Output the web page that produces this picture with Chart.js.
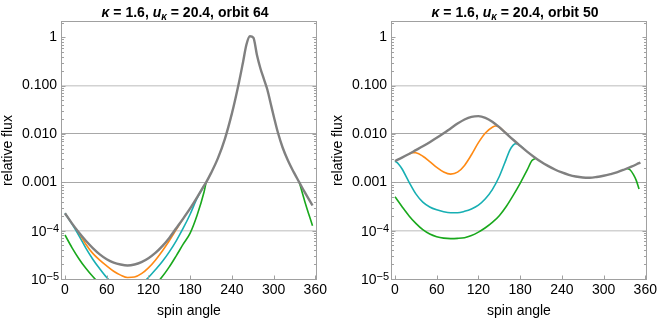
<!DOCTYPE html>
<html><head><meta charset="utf-8">
<script src="https://cdn.jsdelivr.net/npm/chart.js@4.4.0/dist/chart.umd.min.js"></script>
<style>
body{margin:0;width:661px;height:325px;overflow:hidden;background:#fff;font-family:"Liberation Sans",Arial,sans-serif;}
.panel{position:absolute;top:0;width:330px;height:325px;}
.title{position:absolute;top:3px;line-height:18px;font-weight:bold;font-size:14px;white-space:nowrap;transform:translateX(-50%);color:#000;}
.title sub{font-size:10px;vertical-align:-3px;line-height:0;}
</style></head><body>
<div class="panel" style="left:0"><canvas id="c0" width="330" height="325"></canvas></div>
<div class="panel" style="left:330px"><canvas id="c1" width="330" height="325"></canvas></div>
<div class="title" id="t0" style="left:185px"></div>
<div class="title" id="t1" style="left:515px"></div>
<script>
// ---------- data ----------
const kappa = '1.6';
const uKappa = '20.4';
const orbits = [64, 50];

const xTickValues = [0, 60, 120, 180, 240, 300, 360];
const yTickValues = [1e-5, 1e-4, 1e-3, 1e-2, 0.1, 1];
const yTickLabels = ['10^\u22125', '10^\u22124', '0.001', '0.010', '0.100', '1'];

// left panel (orbit 64)
const leftGrayAngle = [0,10,20,30,40,50,60,70,80,90,100,110,120,130,140,150,160,170,180,190,200,203,210,220,230,240,250,256,261,266,271,276,281,286,291,296,301,306,313,321,329,337,345,356];
const leftGrayFlux  = [2.29e-4,1.413e-4,9.12e-5,6.166e-5,4.365e-5,3.236e-5,2.57e-5,2.188e-5,1.995e-5,1.905e-5,1.995e-5,2.239e-5,2.692e-5,3.467e-5,4.786e-5,7.079e-5,1.122e-4,1.778e-4,2.884e-4,4.898e-4,8.511e-4,1.0e-3,1.549e-3,3.162e-3,7.943e-3,2.63e-2,0.1122,0.302,0.7079,1.047,0.9772,0.4365,0.2291,0.138,0.0832,0.0417,0.0209,0.01096,5.248e-3,2.754e-3,1.622e-3,1.0e-3,6.166e-4,3.311e-4];
const leftOrangeAngle = [20,30,40,50,60,70,80,90,100,110,120,130,140,150,160,170];
const leftOrangeFlux  = [9.12e-5,5.248e-5,3.388e-5,2.455e-5,1.862e-5,1.445e-5,1.202e-5,1.072e-5,1.096e-5,1.288e-5,1.698e-5,2.455e-5,3.802e-5,6.166e-5,1.047e-4,1.778e-4];
const leftCyanAngle = [0,10,20,30,40,50,60,70,80,90,100,110,120,130,140,150,160,170,180,190,200];
const leftCyanFlux  = [2.29e-4,1.38e-4,7.943e-5,4.365e-5,2.57e-5,1.622e-5,1.072e-5,7.943e-6,6.607e-6,6.166e-6,6.607e-6,7.943e-6,1.072e-5,1.549e-5,2.291e-5,3.631e-5,6.166e-5,1.122e-4,2.188e-4,4.677e-4,8.511e-4];
const leftGreenAngle = [0,10,20,30,40,50,60,70,80,90,100,110,120,130,140,150,160,170,180,190,200,203,270,337,345,356];
const leftGreenFlux  = [8.128e-5,4.467e-5,2.63e-5,1.66e-5,1.122e-5,7.943e-6,6.026e-6,4.898e-6,4.365e-6,4.266e-6,4.467e-6,5.012e-6,6.026e-6,7.762e-6,1.122e-5,1.778e-5,3.02e-5,5.248e-5,8.913e-5,2.089e-4,6.31e-4,1.0e-3,null,1.0e-3,3.981e-4,1.259e-4];

// right panel (orbit 50)
const rightGrayAngle = [0,10,20,30,40,50,60,70,80,90,100,110,120,130,140,150,160,170,180,190,200,210,220,230,240,250,260,270,280,290,300,310,320,330,340,350,353];
const rightGrayFlux  = [2.754e-3,3.236e-3,3.846e-3,4.624e-3,5.559e-3,6.761e-3,8.318e-3,1.035e-2,1.303e-2,1.641e-2,1.995e-2,2.265e-2,2.344e-2,2.163e-2,1.799e-2,1.38e-2,1.023e-2,7.586e-3,5.689e-3,4.315e-3,3.35e-3,2.661e-3,2.188e-3,1.841e-3,1.603e-3,1.429e-3,1.318e-3,1.259e-3,1.245e-3,1.288e-3,1.365e-3,1.479e-3,1.622e-3,1.841e-3,2.113e-3,2.455e-3,2.57e-3];
const rightOrangeAngle = [20,25,30,40,50,60,70,80,90,100,110,120,130,140,145,150,160];
const rightOrangeFlux  = [3.846e-3,4.121e-3,4.074e-3,3.467e-3,2.692e-3,2.042e-3,1.641e-3,1.479e-3,1.622e-3,2.239e-3,3.715e-3,6.607e-3,1.047e-2,1.38e-2,1.462e-2,1.38e-2,1.023e-2];
const rightCyanAngle = [0,5,10,20,30,40,50,60,70,80,90,100,110,120,130,140,150,160,165,170,174,178,185];
const rightCyanFlux  = [2.754e-3,2.399e-3,1.905e-3,1.023e-3,5.754e-4,3.89e-4,3.09e-4,2.692e-4,2.455e-4,2.344e-4,2.344e-4,2.512e-4,2.818e-4,3.388e-4,4.571e-4,7.079e-4,1.318e-3,3.02e-3,4.571e-3,5.888e-3,6.31e-3,6.026e-3,4.955e-3];
const rightGreenAngle = [0,10,20,30,40,50,60,70,80,90,100,110,120,130,140,150,160,170,180,190,197,203,270,334,338,343,347,351];
const rightGreenFlux  = [5.012e-4,3.162e-4,2.042e-4,1.413e-4,1.047e-4,8.511e-5,7.499e-5,6.998e-5,6.839e-5,6.918e-5,7.161e-5,7.943e-5,9.333e-5,1.148e-4,1.479e-4,2.042e-4,3.162e-4,5.37e-4,9.55e-4,1.778e-3,2.818e-3,3.162e-3,null,1.95e-3,1.82e-3,1.445e-3,1.096e-3,7.244e-4];

const colGray = '#808080', colOrange = '#ff8a14', colCyan = '#17afb3', colGreen = '#19a81c';

// ---------- titles ----------
orbits.forEach((o, i) => {
  document.getElementById('t' + i).innerHTML =
    '<i>\u03ba</i> = ' + kappa + ', <i>u</i><sub><i>\u03ba</i></sub> = ' + uKappa + ', orbit ' + o;
});

// ---------- chart ----------
const FONT = {family: '"Liberation Sans", Arial, sans-serif', size: 14};

function pts(a, f) { return a.map((x, i) => ({x: x, y: f[i]})); }

const framePlugin = {
  id: 'frame',
  afterDraw(chart) {
    const {ctx, chartArea: a, scales: {x, y}} = chart;
    ctx.save();
    ctx.strokeStyle = '#a0a0a0';
    ctx.lineWidth = 1;
    const L = a.left - 0.5, R = a.right + 0.5, T = a.top - 0.5, B = a.bottom + 0.5;
    ctx.strokeRect(L, T, R - L, B - T);
    ctx.beginPath();
    for (let e = -5; e <= 0; e++) {
      for (let m = 1; m < 10; m++) {
        const v = m * Math.pow(10, e);
        if (v > y.max) break;
        const py = Math.round(y.getPixelForValue(v)) + 0.5;
        const len = m === 1 ? 4 : 2.5;
        ctx.moveTo(L, py); ctx.lineTo(L + len, py);
        ctx.moveTo(R, py); ctx.lineTo(R - len, py);
      }
    }
    xTickValues.forEach(v => {
      const px = Math.round(x.getPixelForValue(v)) + 0.5;
      ctx.moveTo(px, B); ctx.lineTo(px, B - 4);
    });
    ctx.stroke();
    // exponent tick labels
    ctx.fillStyle = '#000';
    yTickValues.forEach((v, i) => {
      const lab = yTickLabels[i];
      if (lab.indexOf('^') < 0) return;
      const [base, ex] = lab.split('^');
      const py = y.getPixelForValue(v);
      ctx.font = '11px "Liberation Sans", Arial, sans-serif';
      ctx.textAlign = 'left';
      ctx.textBaseline = 'alphabetic';
      const exW = ctx.measureText(ex).width;
      const right = 59;
      ctx.fillText(ex, right - exW, py + 1);
      ctx.font = '14px "Liberation Sans", Arial, sans-serif';
      ctx.textAlign = 'right';
      ctx.fillText(base, right - exW, py + 5);
    });
    ctx.restore();
  }
};

function makeChart(id, series) {
  const ds = series.map(s => ({
    data: pts(s.a, s.f),
    borderColor: s.c,
    borderWidth: s.w,
    pointRadius: 0,
    fill: false,
    spanGaps: false,
    cubicInterpolationMode: 'monotone',
    clip: 0
  }));
  return new Chart(document.getElementById(id), {
    type: 'line',
    data: {datasets: ds},
    plugins: [framePlugin],
    options: {
      responsive: false,
      animation: false,
      devicePixelRatio: 1,
      layout: {padding: {top: 22, right: 11, left: 0, bottom: 0}},
      plugins: {legend: {display: false}, tooltip: {enabled: false}, title: {display: false}},
      scales: {
        x: {
          type: 'linear', min: -4.3, max: 361,
          afterBuildTicks: sc => { sc.ticks = xTickValues.map(v => ({value: v})); },
          afterFit: sc => { sc.height = 46; },
          grid: {display: false, drawTicks: false},
          border: {display: false},
          ticks: {font: FONT, color: '#000', padding: 3, maxRotation: 0, autoSkip: false},
          title: {display: true, text: 'spin angle', font: FONT, color: '#000', padding: {top: 0, bottom: 5}}
        },
        y: {
          type: 'logarithmic', min: 1e-5, max: 2.07,
          afterBuildTicks: sc => { sc.ticks = yTickValues.map(v => ({value: v})); },
          afterFit: sc => { sc.width = 62; },
          grid: {
            drawTicks: false,
            color: c => {
              const v = c.tick ? c.tick.value : 0;
              if (v === 1 || v === 1e-5) return 'rgba(0,0,0,0)';
              return (v === 0.1 || v === 1e-4) ? '#d2d2d2' : '#a8a8a8';
            },
            lineWidth: c => {
              const v = c.tick ? c.tick.value : 0;
              return (v === 0.1 || v === 1e-4) ? 1.6 : 1;
            }
          },
          border: {display: false},
          ticks: {
            font: FONT, color: '#000', padding: 5, autoSkip: false,
            callback: (v) => {
              const i = yTickValues.indexOf(v);
              if (i < 0) return '';
              const lab = yTickLabels[i];
              return lab.indexOf('^') >= 0 ? '' : lab;
            }
          },
          title: {display: true, text: 'relative flux', font: FONT, color: '#000', padding: 0}
        }
      }
    }
  });
}

makeChart('c0', [
  {a: leftGrayAngle, f: leftGrayFlux, c: colGray, w: 2.4},
  {a: leftOrangeAngle, f: leftOrangeFlux, c: colOrange, w: 1.6},
  {a: leftCyanAngle, f: leftCyanFlux, c: colCyan, w: 1.6},
  {a: leftGreenAngle, f: leftGreenFlux, c: colGreen, w: 1.6}
]);
makeChart('c1', [
  {a: rightGrayAngle, f: rightGrayFlux, c: colGray, w: 2.4},
  {a: rightOrangeAngle, f: rightOrangeFlux, c: colOrange, w: 1.6},
  {a: rightCyanAngle, f: rightCyanFlux, c: colCyan, w: 1.6},
  {a: rightGreenAngle, f: rightGreenFlux, c: colGreen, w: 1.6}
]);
</script>
</body></html>
